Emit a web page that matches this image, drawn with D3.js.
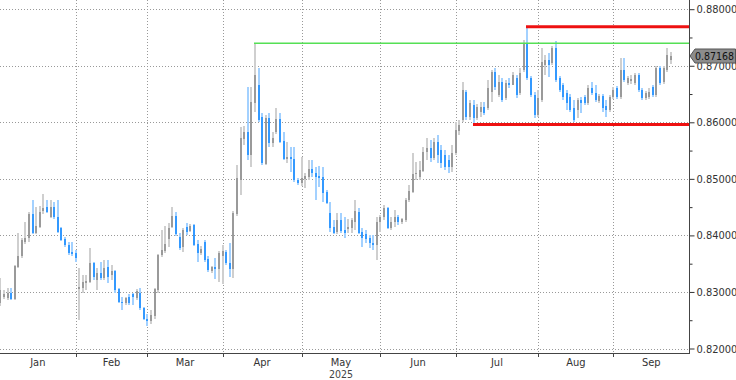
<!DOCTYPE html>
<html><head><meta charset="utf-8">
<script src="https://cdn.jsdelivr.net/npm/d3@7"></script>
<style>body{margin:0;background:#fff}svg{display:block}</style>
</head><body>
<svg id="c" width="736" height="380"></svg>
<script>
// ---- data ----
const startDate = "2025-01-03";   // first visible trading day (weekdays only)
const opens = [
.8280,.8291,.8289,.8299,.8287,.8344,.8363,.8388,.8395,.8438,
.8404,.8415,.8443,.8450,.8432,.8450,.8432,.8413,.8393,.8383,
.8370,.8369,.8305,.8307,.8315,.8317,.8351,.8322,.8333,.8324,
.8344,.8330,.8337,.8305,.8282,.8280,.8291,.8296,.8289,.8299,
.8271,.8253,.8248,.8257,.8303,.8365,.8372,.8393,.8415,.8434,
.8397,.8379,.8415,.8407,.8418,.8384,.8369,.8388,.8358,.8337,
.8344,.8340,.8363,.8370,.8351,.8340,.8438,.8498,.8570,.8583,
.8542,.8634,.8666,.8609,.8526,.8607,.8563,.8583,.8606,.8567,
.8535,.8538,.8535,.8498,.8492,.8499,.8503,.8517,.8510,.8505,
.8503,.8477,.8439,.8415,.8406,.8427,.8409,.8411,.8413,.8423,
.8441,.8406,.8402,.8395,.8386,.8383,.8423,.8432,.8448,.8413,
.8423,.8432,.8423,.8427,.8462,.8477,.8508,.8503,.8514,.8547,
.8554,.8537,.8565,.8551,.8542,.8533,.8521,.8546,.8584,.8604,
.8654,.8609,.8630,.8607,.8618,.8627,.8625,.8653,.8689,.8648,
.8671,.8643,.8669,.8666,.8678,.8652,.8692,.8740,.8678,.8648,
.8613,.8639,.8701,.8710,.8705,.8731,.8678,.8666,.8652,.8645,
.8625,.8622,.8639,.8645,.8634,.8661,.8652,.8638,.8646,.8629,
.8622,.8645,.8661,.8645,.8692,.8669,.8673,.8669,.8684,.8657,
.8643,.8645,.8662,.8648,.8696,.8671,.8692,.8711];
const highs = [
.8324,.8303,.8307,.8307,.8347,.8404,.8395,.8423,.8441,.8462,
.8450,.8452,.8473,.8462,.8462,.8459,.8462,.8415,.8397,.8388,
.8388,.8374,.8342,.8330,.8330,.8377,.8353,.8342,.8353,.8356,
.8356,.8347,.8338,.8307,.8291,.8291,.8296,.8299,.8305,.8307,
.8273,.8261,.8268,.8307,.8367,.8409,.8416,.8422,.8450,.8441,
.8404,.8413,.8422,.8420,.8420,.8392,.8381,.8392,.8363,.8346,
.8360,.8372,.8383,.8374,.8386,.8443,.8524,.8591,.8593,.8662,
.8662,.8740,.8696,.8616,.8613,.8616,.8583,.8625,.8616,.8583,
.8565,.8556,.8556,.8501,.8538,.8510,.8533,.8533,.8521,.8522,
.8521,.8480,.8459,.8427,.8439,.8439,.8432,.8429,.8430,.8462,
.8448,.8413,.8409,.8400,.8400,.8432,.8436,.8453,.8450,.8432,
.8445,.8436,.8430,.8466,.8489,.8546,.8530,.8531,.8556,.8572,
.8568,.8572,.8577,.8560,.8551,.8542,.8560,.8600,.8604,.8671,
.8657,.8639,.8639,.8632,.8636,.8636,.8675,.8692,.8696,.8684,
.8678,.8675,.8678,.8689,.8684,.8696,.8746,.8769,.8682,.8653,
.8657,.8731,.8719,.8722,.8735,.8744,.8682,.8669,.8657,.8650,
.8639,.8643,.8645,.8648,.8666,.8671,.8666,.8650,.8650,.8639,
.8648,.8662,.8664,.8714,.8714,.8682,.8684,.8687,.8687,.8661,
.8655,.8661,.8666,.8699,.8699,.8699,.8731,.8724];
const lows = [
.8275,.8287,.8285,.8285,.8285,.8342,.8360,.8384,.8388,.8402,
.8402,.8413,.8438,.8439,.8430,.8429,.8404,.8390,.8379,.8365,
.8363,.8353,.8250,.8298,.8303,.8315,.8321,.8303,.8321,.8321,
.8315,.8321,.8299,.8280,.8268,.8277,.8277,.8277,.8285,.8268,
.8250,.8239,.8243,.8253,.8299,.8361,.8369,.8379,.8413,.8399,
.8374,.8370,.8400,.8406,.8381,.8353,.8365,.8353,.8335,.8333,
.8323,.8317,.8314,.8347,.8326,.8324,.8434,.8471,.8560,.8533,
.8521,.8618,.8600,.8524,.8524,.8556,.8556,.8579,.8563,.8533,
.8528,.8512,.8494,.8489,.8487,.8484,.8498,.8503,.8462,.8485,
.8459,.8455,.8406,.8402,.8402,.8404,.8395,.8404,.8404,.8409,
.8402,.8379,.8386,.8377,.8374,.8356,.8406,.8427,.8411,.8409,
.8415,.8418,.8420,.8423,.8459,.8475,.8498,.8498,.8512,.8533,
.8530,.8533,.8528,.8519,.8515,.8510,.8512,.8542,.8577,.8600,
.8604,.8604,.8597,.8604,.8609,.8613,.8622,.8636,.8657,.8645,
.8636,.8639,.8661,.8666,.8643,.8648,.8689,.8675,.8645,.8607,
.8609,.8636,.8684,.8680,.8701,.8671,.8653,.8639,.8622,.8618,
.8600,.8607,.8616,.8630,.8630,.8648,.8636,.8634,.8618,.8609,
.8618,.8641,.8641,.8641,.8671,.8666,.8668,.8666,.8653,.8639,
.8639,.8641,.8645,.8645,.8666,.8668,.8689,.8703];
const closes = [
.8303,.8296,.8299,.8287,.8346,.8363,.8392,.8395,.8438,.8404,
.8416,.8441,.8448,.8441,.8450,.8432,.8406,.8392,.8383,.8369,
.8367,.8360,.8308,.8317,.8319,.8351,.8326,.8333,.8324,.8342,
.8326,.8337,.8303,.8282,.8280,.8289,.8280,.8291,.8301,.8271,
.8253,.8248,.8259,.8305,.8365,.8374,.8384,.8413,.8434,.8402,
.8377,.8409,.8406,.8416,.8383,.8369,.8376,.8356,.8338,.8344,
.8340,.8369,.8372,.8351,.8340,.8439,.8501,.8572,.8583,.8542,
.8636,.8684,.8604,.8528,.8607,.8563,.8572,.8606,.8565,.8535,
.8538,.8535,.8498,.8492,.8501,.8505,.8517,.8510,.8503,.8501,
.8475,.8457,.8413,.8404,.8427,.8407,.8404,.8415,.8427,.8443,
.8404,.8395,.8393,.8386,.8383,.8423,.8432,.8448,.8413,.8423,
.8432,.8423,.8429,.8462,.8478,.8508,.8510,.8515,.8547,.8554,
.8537,.8565,.8542,.8528,.8521,.8521,.8546,.8586,.8595,.8657,
.8609,.8634,.8607,.8627,.8627,.8616,.8661,.8689,.8662,.8671,
.8639,.8669,.8666,.8684,.8648,.8687,.8740,.8678,.8648,.8613,
.8643,.8706,.8710,.8701,.8731,.8675,.8657,.8645,.8634,.8622,
.8604,.8639,.8634,.8634,.8661,.8652,.8639,.8646,.8625,.8622,
.8645,.8657,.8645,.8692,.8675,.8678,.8676,.8684,.8657,.8643,
.8652,.8654,.8648,.8696,.8669,.8696,.8719,.87168];
const yTicks = [0.82,0.83,0.84,0.85,0.86,0.87,0.88];
const yMinorTicks = [0.825,0.835,0.845,0.855,0.865,0.875];
const monthNames = ["Jan","Feb","Mar","Apr","May","Jun","Jul","Aug","Sep"];
const yearLabel = "2025";
const lastPrice = 0.87168;
const levelPrices = [0.87396, 0.8769, 0.8596];
const levelStartIdx = [71, 147, 132];

// ---- layout ----
const plotR = 689, plotB = 353, nSlots = 192;
const FONT = "'DejaVu Sans Condensed','Liberation Sans',sans-serif";
const svg = d3.select("#c");
const x = d3.scaleLinear().domain([0, nSlots]).range([0.4, 0.4 + nSlots*3.585]);
const y = d3.scaleLinear().domain([0.82, 0.88]).range([348.5, 9.2]);

// dates (weekdays)
const dates = [];
{ let d = new Date(startDate + "T00:00:00");
  while (dates.length < closes.length) {
    const wd = d.getDay();
    if (wd !== 0 && wd !== 6) dates.push(new Date(d));
    d.setDate(d.getDate() + 1);
  } }
const monthStarts = [];
dates.forEach((d, i) => { if (i > 0 && d.getMonth() !== dates[i-1].getMonth()) monthStarts.push(i); });
const bounds = [-2, ...monthStarts, nSlots + 40];

svg.append("defs").append("clipPath").attr("id","pc")
  .append("rect").attr("x",0).attr("y",0).attr("width",plotR).attr("height",plotB);

// gridlines
const grid = svg.append("g");
grid.selectAll("line.h").data(yTicks).join("line")
  .attr("x1",0).attr("x2",plotR)
  .attr("y1",d=>Math.round(y(d))+0.5).attr("y2",d=>Math.round(y(d))+0.5)
  .attr("stroke","#999").attr("stroke-dasharray","1,2");
grid.selectAll("line.v").data(monthStarts).join("line")
  .attr("x1",d=>Math.round(x(d))+0.5).attr("x2",d=>Math.round(x(d))+0.5)
  .attr("y1",0).attr("y2",plotB)
  .attr("stroke","#999").attr("stroke-dasharray","1,2");

// candles
const idx = d3.range(closes.length);
const cg = svg.append("g").attr("clip-path","url(#pc)").attr("shape-rendering","crispEdges");
cg.selectAll("rect.w").data(idx).join("rect")
  .attr("x",i=>Math.round(x(i))-1).attr("width",2)
  .attr("y",i=>y(highs[i])).attr("height",i=>Math.max(1,y(lows[i])-y(highs[i])))
  .attr("fill",i=>closes[i]>=opens[i]?"#cfcfcf":"#a3d1ff");
cg.selectAll("rect.b").data(idx).join("rect")
  .attr("x",i=>Math.round(x(i))-1).attr("width",2)
  .attr("y",i=>y(Math.max(opens[i],closes[i])))
  .attr("height",i=>Math.max(1,Math.abs(y(opens[i])-y(closes[i]))))
  .attr("fill",i=>closes[i]>=opens[i]?"#9a9a9a":"#3399ff");

// levels
const levelColors = ["#55e055","#ee1111","#ee1111"];
const levelWidths = [1.5,3,3];
svg.append("g").selectAll("line").data(levelPrices).join("line")
  .attr("x1",(d,k)=>Math.round(x(levelStartIdx[k]))-1).attr("x2",plotR)
  .attr("y1",d=>y(d)).attr("y2",d=>y(d))
  .attr("stroke",(d,k)=>levelColors[k]).attr("stroke-width",(d,k)=>levelWidths[k]);

// right axis
const ra = svg.append("g").attr("transform",`translate(${plotR+0.5},0)`)
  .call(d3.axisRight(y).tickValues(yTicks).tickFormat(d3.format(".5f")).tickSize(5).tickPadding(2));
ra.select(".domain").remove();
ra.selectAll("line").attr("stroke","#333");
ra.selectAll("text").attr("fill","#333").style("font-family",FONT).style("font-size","11px");
svg.append("g").attr("transform",`translate(${plotR+0.5},0)`)
  .call(d3.axisRight(y).tickValues(yMinorTicks).tickFormat("").tickSize(3))
  .call(g=>{g.select(".domain").remove(); g.selectAll("line").attr("stroke","#333");});
svg.append("line").attr("x1",plotR+0.5).attr("x2",plotR+0.5).attr("y1",0).attr("y2",plotB+1)
  .attr("stroke","#444");

// bottom axis
svg.append("line").attr("x1",0).attr("x2",plotR+1).attr("y1",plotB+0.5).attr("y2",plotB+0.5).attr("stroke","#444");
svg.append("g").selectAll("line").data(monthStarts).join("line")
  .attr("x1",d=>Math.round(x(d))+0.5).attr("x2",d=>Math.round(x(d))+0.5)
  .attr("y1",plotB).attr("y2",plotB+4).attr("stroke","#444");
const mlab = monthNames.map((m,k)=>{
  const a = Math.max(0, x(bounds[k])), b = Math.min(plotR, x(bounds[k+1]));
  return {m, cx:(a+b)/2};
});
svg.append("g").selectAll("text").data(mlab).join("text")
  .attr("x",d=>d.cx).attr("y",366).attr("text-anchor","middle")
  .attr("fill","#333").style("font-family",FONT).style("font-size","11px")
  .text(d=>d.m);
svg.append("text").attr("x",(x(bounds[4])+x(bounds[5]))/2).attr("y",377.5).attr("text-anchor","middle")
  .attr("fill","#444").style("font-family",FONT).style("font-size","10.5px")
  .text(yearLabel);

// last price label
const yc = Math.round(y(lastPrice));
svg.append("path")
  .attr("d",`M${plotR+1},${yc} L${plotR+6},${yc-7} L735.5,${yc-7} L735.5,${yc+7} L${plotR+6},${yc+7} Z`)
  .attr("fill","#8c8c8c").attr("stroke","#555");
svg.append("text").attr("x",plotR+6).attr("y",yc+4)
  .attr("fill","#111").style("font-family",FONT).style("font-size","10.5px")
  .text(d3.format(".5f")(lastPrice));
</script>
</body></html>
